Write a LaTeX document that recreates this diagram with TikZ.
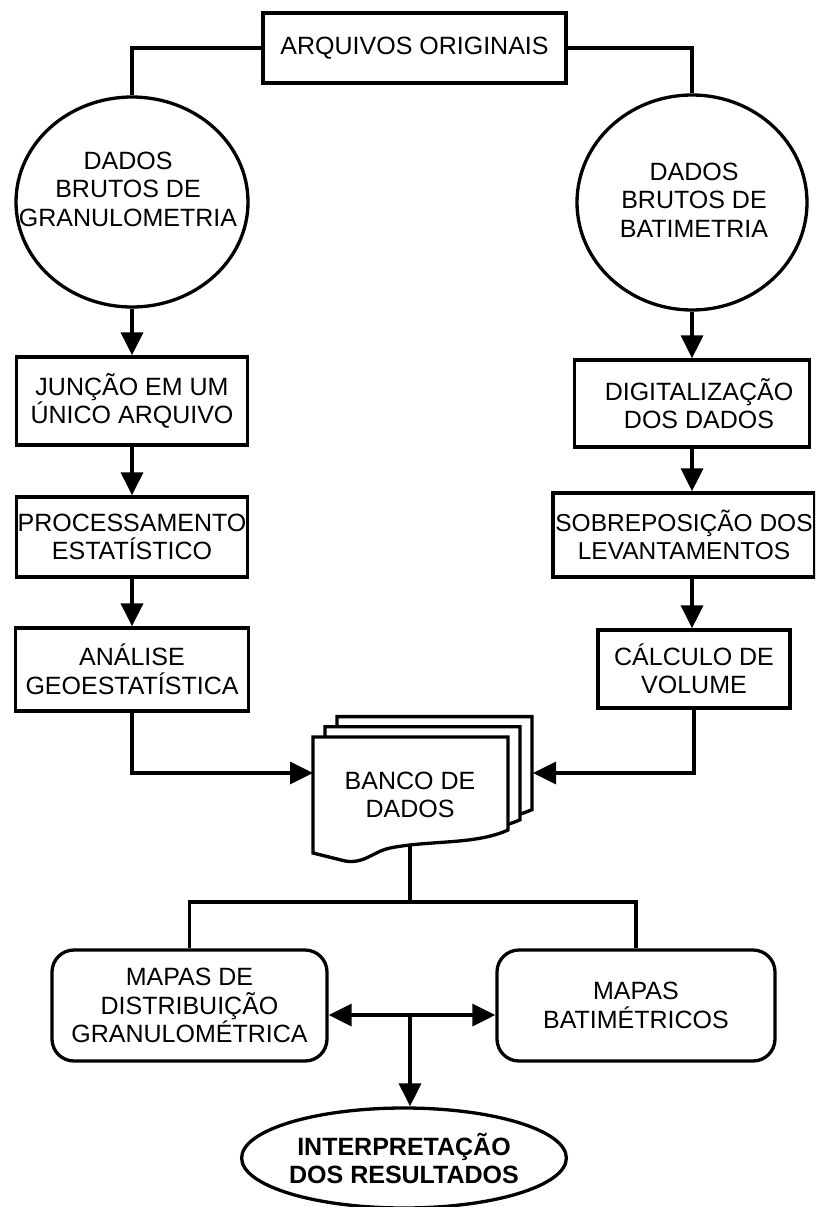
\documentclass[tikz,border=0pt]{standalone}
\usepackage{fontspec}
\setmainfont{Liberation Sans}
\usetikzlibrary{shapes.geometric,arrows.meta}
\begin{document}
\begin{tikzpicture}[x=1pt,y=-1pt,line width=3.3pt,
  every node/.style={font=\fontsize{25}{28.5}\selectfont,align=center},
  box/.style={draw,rectangle,inner sep=0pt},
  bubble/.style={draw,ellipse,inner sep=0pt},
  mapbox/.style={draw,rectangle,rounded corners=22pt,inner sep=0pt},
  tri/.style={-{Triangle[length=23pt,width=22pt]}},
  dtri/.style={{Triangle[length=23pt,width=22pt]}-{Triangle[length=23pt,width=22pt]}}]
\useasboundingbox (0,0) rectangle (815,1207);
\clip (0,0) rectangle (815,1207);

% origem
\node[box,minimum width=303pt,minimum height=70pt] (orig) at (414.5,48) {ARQUIVOS ORIGINAIS};
\node[bubble,minimum width=232pt,minimum height=210pt] (gran) at (132,202) {};
\node (granT) at (128,189) {DADOS\\BRUTOS DE\\GRANULOMETRIA};
\node[bubble,minimum width=230pt,minimum height=215pt] (bati) at (692,202.5) {};
\node (batiT) at (694,200) {DADOS\\BRUTOS DE\\BATIMETRIA};
\draw (orig.west) -| (gran.north);
\draw (orig.east) -| (bati.north);

% granulometria
\node[box,minimum width=231pt,minimum height=88pt] (junc) at (132,401) {JUNÇÃO EM UM\\ÚNICO ARQUIVO};
\node[box,minimum width=231pt,minimum height=80pt] (proc) at (132,537) {PROCESSAMENTO\\ESTATÍSTICO};
\node[box,minimum width=233pt,minimum height=83pt] (anal) at (132,669.5) {ANÁLISE\\GEOESTATÍSTICA};
\draw[tri] (gran.south) -- (junc.north);
\draw[tri] (junc.south) -- (proc.north);
\draw[tri] (proc.south) -- (anal.north);

% batimetria
\node[box,minimum width=235pt,minimum height=87pt] (digi) at (692,403.5) {\hspace*{14pt}DIGITALIZAÇÃO\\\hspace*{14pt}DOS DADOS};
\node[box,minimum width=262pt,minimum height=84pt,font=\fontsize{24.5}{28.5}\selectfont] (sobr) at (684,535) {SOBREPOSIÇÃO DOS\\LEVANTAMENTOS};
\node[box,minimum width=192pt,minimum height=78pt] (calc) at (694,669) {CÁLCULO DE\\VOLUME};
\draw[tri] (bati.south) -- (digi.north);
\draw[tri] (digi.south) -- (digi.south |- sobr.north);
\draw[tri] (digi.south |- sobr.south) -- (digi.south |- calc.north);

% banco de dados
\foreach \s in {24,12,0}
  \draw[fill=white,shift={(\s,-0.85*\s)}] (313,737) -- (508,737) -- (508,830)
    .. controls (475,845) and (430,840) .. (390,848)
    .. controls (372,852) and (365,864) .. (345,861) -- (313,853) -- cycle;
\node (banco) at (410,795) {BANCO DE\\DADOS};
\coordinate (bancoW) at (313,773);
\coordinate (bancoE) at (533,773);
\coordinate (bancoB) at (410,846);
\draw[tri] (anal.south) |- (bancoW);
\draw[tri] (calc.south) |- (bancoE);

% mapas
\coordinate (split) at (410,902);
\coordinate (mid) at (410,1015);
\node[mapbox,minimum width=275pt,minimum height=111pt] (mapg) at (189.5,1005.5) {MAPAS DE\\DISTRIBUIÇÃO\\GRANULOMÉTRICA};
\node[mapbox,minimum width=278pt,minimum height=111pt] (mapb) at (636,1005.5) {MAPAS\\BATIMÉTRICOS};
\draw (bancoB) -- (split);
\draw (mapg.north) |- (split) -| (mapb.north);
\draw[dtri] (mapg.east |- mid) -- (mapb.west |- mid);
\node[bubble,minimum width=282pt,minimum height=100pt,font=\bfseries\fontsize{25}{28}\selectfont] (interp) at (404,1158) {INTERPRETAÇÃO\\DOS RESULTADOS};
\draw[tri] (mid) -- (mid |- interp.north);
\end{tikzpicture}
\end{document}
